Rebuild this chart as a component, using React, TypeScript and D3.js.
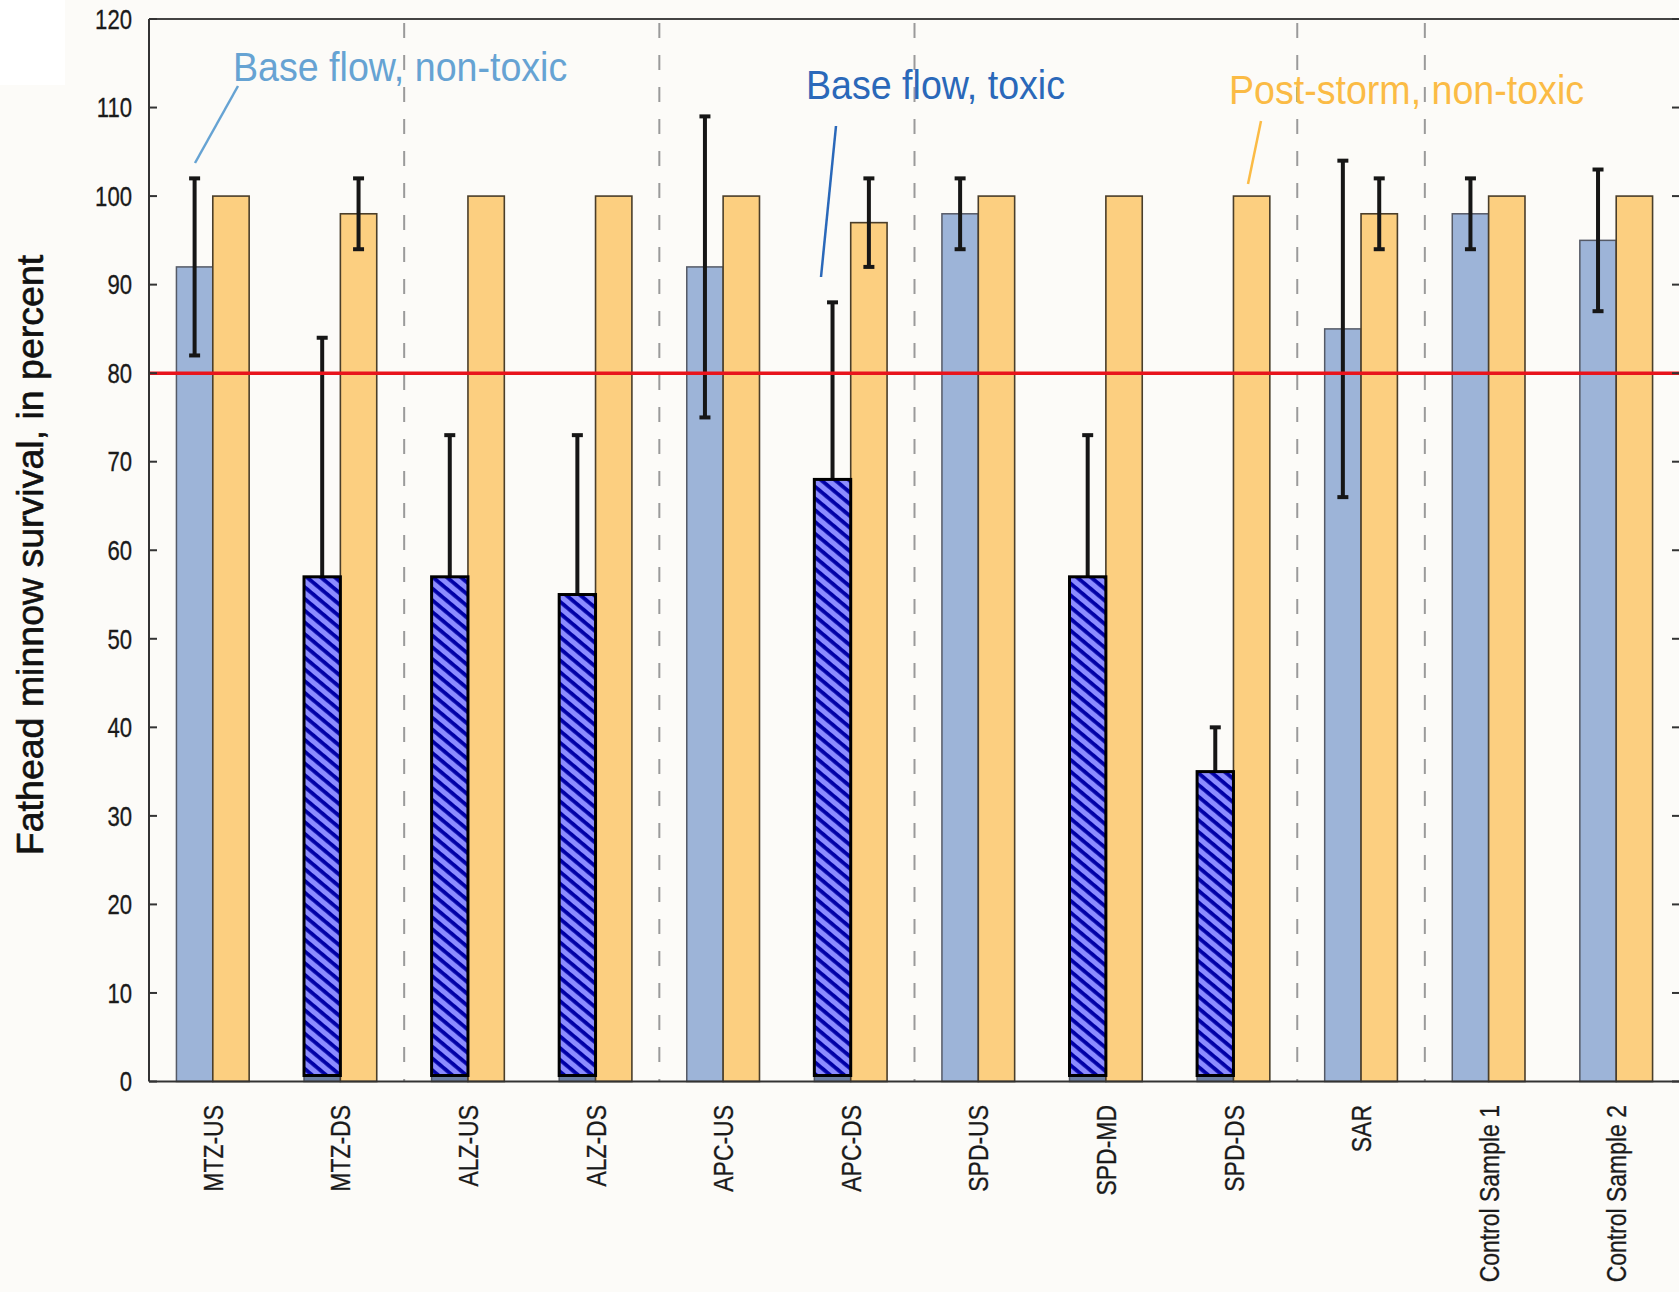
import React, { useEffect } from "react";
import * as d3 from "d3";

// ---- data ----
const sites = ["MTZ-US", "MTZ-DS", "ALZ-US", "ALZ-DS", "APC-US", "APC-DS", "SPD-US", "SPD-MD", "SPD-DS", "SAR", "Control Sample 1", "Control Sample 2"];
const baseFlow = [92, 57, 57, 55, 92, 68, 98, 57, 35, 85, 98, 95];
const baseFlowToxic = [false, true, true, true, false, true, false, true, true, false, false, false];
const baseErrHigh = [102, 84, 73, 73, 109, 88, 102, 73, 40, 104, 102, 103];
const baseErrLow: (number | null)[] = [82, null, null, null, 75, null, 94, null, null, 66, 94, 87];
const postStorm = [100, 98, 100, 100, 100, 97, 100, 100, 100, 98, 100, 100];
const postErrHigh: (number | null)[] = [null, 102, null, null, null, 102, null, null, null, 102, null, null];
const postErrLow: (number | null)[] = [null, 94, null, null, null, 92, null, null, null, 94, null, null];
const separatorsAfter = ["MTZ-DS", "ALZ-DS", "APC-DS", "SPD-DS", "SAR"];
const yTicks = [0, 10, 20, 30, 40, 50, 60, 70, 80, 90, 100, 110, 120];
const threshold = 80;
const annotations = [
  { text: "Base flow, non-toxic", color: "#66a3d3" },
  { text: "Base flow, toxic", color: "#2a68b9" },
  { text: "Post-storm, non-toxic", color: "#fbbb45" },
];

const W = 1679;
const H = 1292;
const SANS = "'Liberation Sans', Arial, sans-serif";

export default function App() {
  useEffect(() => {
    document.body.style.margin = "0";
  }, []);

  const left = 149;
  const right = 1680;
  const x = d3.scaleBand<string>().domain(sites).range([left, right]).paddingInner(0.43).paddingOuter(0.215);
  const inner = d3.scaleBand<string>().domain(["base", "post"]).range([0, x.bandwidth()]);
  const y = d3.scaleLinear().domain([0, 120]).range([1081.5, 19]);
  const step = x.step();
  const bw = inner.bandwidth();

  const annoPos = [
    { x: 233, y: 81, line: [[238, 86], [195, 163]] },
    { x: 806, y: 99, line: [[836, 126], [821, 277]] },
    { x: 1229, y: 104, line: [[1261, 121], [1248, 184]] },
  ];

  return (
    <svg width={W} height={H} style={{ position: "absolute", left: 0, top: 0, display: "block" }}>
      <defs>
        <pattern id="hatch" patternUnits="userSpaceOnUse" width={9} height={9} patternTransform="rotate(40)">
          <rect width={9} height={9} fill="#8c8cff" />
          <rect x={0} y={0} width={9} height={3.8} fill="#0000a6" />
        </pattern>
      </defs>
      <rect width={W} height={H} fill="#fcfbf8" />
      <rect x={0} y={0} width={65} height={85} fill="#ffffff" />

      {/* separators */}
      {separatorsAfter.map((s) => {
        const sx = (x(s) as number) + x.bandwidth() / 2 + step / 2;
        return (
          <line key={s} x1={sx} x2={sx} y1={y(120)} y2={y(0)} stroke="#9a9a9a" strokeWidth={2} strokeDasharray="15 17" strokeDashoffset={-4} />
        );
      })}

      {/* base-flow bars */}
      {sites.map((s, i) => {
        const bx = (x(s) as number) + (inner("base") as number);
        return (
          <rect key={"b" + s} x={bx} y={y(baseFlow[i])} width={bw} height={y(0) - y(baseFlow[i])}
            fill={baseFlowToxic[i] ? "#6c7fa3" : "#9db4d8"} stroke="#555a66" strokeWidth={1.5} />
        );
      })}
      {/* post-storm bars */}
      {sites.map((s, i) => {
        const bx = (x(s) as number) + (inner("post") as number);
        return (
          <rect key={"p" + s} x={bx} y={y(postStorm[i])} width={bw} height={y(0) - y(postStorm[i])}
            fill="#fccf80" stroke="#4a3e2a" strokeWidth={1.6} />
        );
      })}

      {/* error bars */}
      {sites.map((s, i) => {
        const cx = (x(s) as number) + (inner("base") as number) + bw / 2;
        const lo = baseErrLow[i] ?? baseFlow[i];
        const hi = baseErrHigh[i];
        return (
          <g key={"eb" + s} stroke="#161616" strokeWidth={4}>
            <line x1={cx} x2={cx} y1={y(hi)} y2={y(lo)} />
            <line x1={cx - 5.5} x2={cx + 5.5} y1={y(hi)} y2={y(hi)} />
            {baseErrLow[i] != null && <line x1={cx - 5.5} x2={cx + 5.5} y1={y(lo)} y2={y(lo)} />}
          </g>
        );
      })}
      {sites.map((s, i) => {
        const hi = postErrHigh[i];
        const lo = postErrLow[i];
        if (hi == null || lo == null) return null;
        const cx = (x(s) as number) + (inner("post") as number) + bw / 2;
        return (
          <g key={"ep" + s} stroke="#161616" strokeWidth={4}>
            <line x1={cx} x2={cx} y1={y(hi)} y2={y(lo)} />
            <line x1={cx - 5.5} x2={cx + 5.5} y1={y(hi)} y2={y(hi)} />
            <line x1={cx - 5.5} x2={cx + 5.5} y1={y(lo)} y2={y(lo)} />
          </g>
        );
      })}

      {/* toxic hatched overlays */}
      {sites.map((s, i) => {
        if (!baseFlowToxic[i]) return null;
        const bx = (x(s) as number) + (inner("base") as number);
        return (
          <rect key={"h" + s} x={bx} y={y(baseFlow[i])} width={bw} height={y(0) - y(baseFlow[i]) - 6}
            fill="url(#hatch)" stroke="#000" strokeWidth={3} />
        );
      })}

      {/* threshold line */}
      <line x1={left} x2={W} y1={y(threshold)} y2={y(threshold)} stroke="#e8141c" strokeWidth={3.5} />

      {/* axes frame */}
      <line x1={left} x2={left} y1={y(120)} y2={y(0)} stroke="#333" strokeWidth={2} />
      <line x1={right} x2={right} y1={y(120)} y2={y(0)} stroke="#333" strokeWidth={2} />
      <line x1={left} x2={W} y1={y(120)} y2={y(120)} stroke="#444" strokeWidth={2} />
      <line x1={left} x2={W} y1={y(0)} y2={y(0)} stroke="#333" strokeWidth={2} />
      {yTicks.map((t) => (
        <g key={"t" + t}>
          <line x1={left} x2={left + 8} y1={y(t)} y2={y(t)} stroke="#333" strokeWidth={2} />
          <line x1={right - 8} x2={right} y1={y(t)} y2={y(t)} stroke="#333" strokeWidth={2} />
          <text transform={`translate(132,${y(t)}) scale(0.82,1)`} dy="0.36em" textAnchor="end" fontFamily={SANS} fontSize={27}
            fill="#1a1a1a" stroke="#1a1a1a" strokeWidth={0.3}>{t}</text>
        </g>
      ))}

      {/* x labels */}
      {sites.map((s) => {
        const cx = (x(s) as number) + x.bandwidth() / 2;
        return (
          <text key={"xl" + s} transform={`translate(${cx},1105) rotate(-90) scale(0.82,1)`} textAnchor="end" dy="0.36em"
            fontFamily={SANS} fontSize={28} fill="#1a1a1a" stroke="#1a1a1a" strokeWidth={0.3}>{s}</text>
        );
      })}

      {/* y title */}
      <text transform="translate(43,555) rotate(-90)" textAnchor="middle" fontFamily={SANS}
        fontSize={37.5} fill="#111" stroke="#111" strokeWidth={0.6}>Fathead minnow survival, in percent</text>

      {/* annotations */}
      {annotations.map((a, i) => (
        <g key={"a" + i}>
          <line x1={annoPos[i].line[0][0]} y1={annoPos[i].line[0][1]} x2={annoPos[i].line[1][0]} y2={annoPos[i].line[1][1]}
            stroke={a.color} strokeWidth={2.5} />
          <text transform={`translate(${annoPos[i].x},${annoPos[i].y}) scale(0.94,1)`} fontFamily={SANS} fontSize={40} fill={a.color}>{a.text}</text>
        </g>
      ))}
    </svg>
  );
}
